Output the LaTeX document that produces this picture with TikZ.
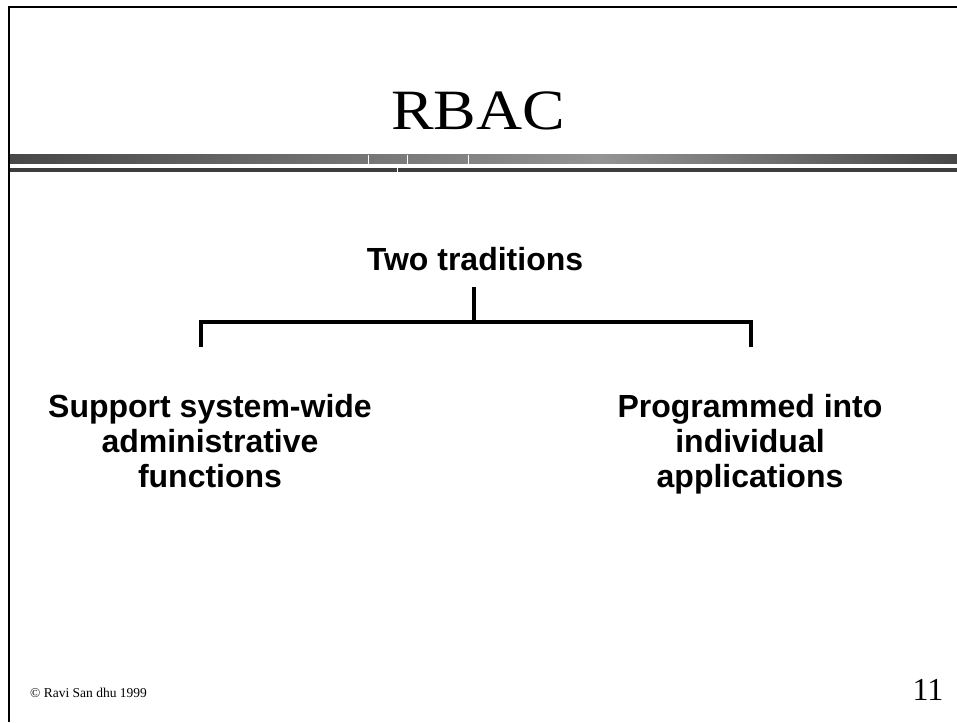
\documentclass[tikz,border=0pt]{standalone}
\usepackage{fontspec}
\setmainfont{Liberation Serif}
\setsansfont{Liberation Sans}
\begin{document}
\begin{tikzpicture}[x=1pt,y=-1pt,
  bodytext/.style={font=\sffamily\bfseries\fontsize{32}{35}\selectfont, align=center, inner sep=0pt},
  bracketline/.style={line width=4pt, line cap=butt},
  framecol/.style={line width=2.5pt, black}]
\useasboundingbox (0,0) rectangle (957,722);
\fill[white] (0,0) rectangle (957,722);
% frame
\draw[framecol] (9,722) -- (9,7) -- (957,7);
% header bars
\shade[left color=black!72, right color=black!42] (10,155) rectangle (600,164);
\shade[left color=black!42, right color=black!72] (600,155) rectangle (957,164);
\fill[black!76] (10,168) rectangle (957,172);
\foreach \sx in {368,407,468}{\draw[white,line width=0.8pt] (\sx,155) -- (\sx,164);}
\draw[white,line width=0.8pt] (397,168) -- (397,172);
% title
\node[font=\fontsize{57}{60}\selectfont, inner sep=0pt, anchor=base] (title) at (478,130) {\scalebox{1.12}[1]{RBAC}};
% tree
\node[bodytext, anchor=base] (root) at (475,270) {Two traditions};
\coordinate (stemtop) at (474,287);
\coordinate (stembot) at (474,324);
\coordinate (lt) at (201,324);
\coordinate (rt) at (751,324);
\coordinate (lb) at (201,347);
\coordinate (rb) at (751,347);
\draw[bracketline] (stemtop) -- (stembot);
\draw[bracketline] (lb) -- ([yshift=2pt]lt) -- ([yshift=2pt]rt) -- (rb);
\node[bodytext, anchor=north] (left) at (210,394) {Support system-wide\\administrative\\functions};
\node[bodytext, anchor=north] (right) at (750,394) {Programmed into\\individual\\applications};
% footer
\node[anchor=base west, font=\fontsize{13.5}{15}\selectfont, inner sep=0pt] (foot) at (30,697) {\textcopyright{} Ravi San dhu 1999};
\node[font=\fontsize{32}{34}\selectfont, inner sep=0pt, anchor=base] (num) at (928,700) {11};
\end{tikzpicture}
\end{document}
